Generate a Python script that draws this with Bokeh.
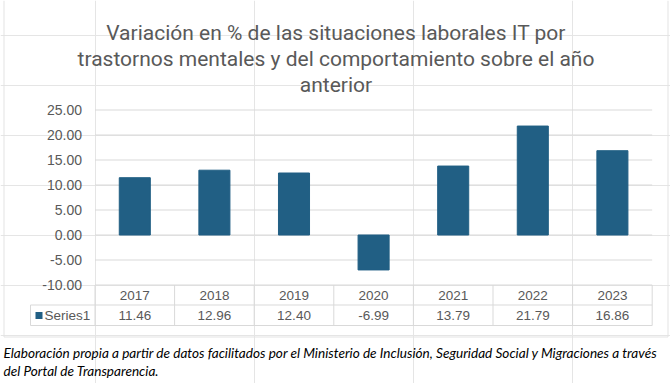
from bokeh.plotting import figure
from bokeh.models import Range1d, ColumnDataSource
from bokeh.embed import file_html
from bokeh.resources import INLINE
from bokeh.core.properties import value

# ---- data ----
years = ["2017", "2018", "2019", "2020", "2021", "2022", "2023"]
variation = [11.46, 12.96, 12.40, -6.99, 13.79, 21.79, 16.86]
y_ticks = [-10, -5, 0, 5, 10, 15, 20, 25]
series_name = "Series1"
title_lines = [
    "Variación en % de las situaciones laborales IT por",
    "trastornos mentales y del comportamiento sobre el año",
    "anterior",
]
caption_lines = [
    "Elaboración propia a partir de datos facilitados por el Ministerio de Inclusión, Seguridad Social y Migraciones a través",
    "del Portal de Transparencia.",
]

BAR = "#215F84"
GRID = "#D9D9D9"
BOX = "#E3E3E3"
TXT = "#595959"

W, H = 670, 383
# scale: one category = 79.6 px, one value unit = 5 px; category 0 starts at px 94.5, value 0 at px 234.5
X0, XS = 94.5, 79.6
Y0, YS = 234.5, 5.0


def dx(px):
    return (px - X0) / XS


def dy(py):
    return (Y0 - py) / YS


p = figure(width=W, height=H, output_backend="svg", toolbar_location=None,
           x_range=Range1d(dx(0), dx(W)), y_range=Range1d(dy(H), dy(0)),
           x_axis_location=None, y_axis_location=None, min_border=0)
p.outline_line_color = None
p.background_fill_color = "white"
p.border_fill_color = "white"

n = len(years)

# outer chart border
p.segment(x0=[dx(3.5), dx(667.5), dx(3.5)], x1=[dx(3.5), dx(667.5), dx(667.5)],
          y0=[dy(0), dy(0), dy(336.5)], y1=[dy(336.5), dy(336.5), dy(336.5)],
          line_color=BOX, line_width=1)

# horizontal gridlines at the tick values
p.segment(x0=[0] * len(y_ticks), x1=[n] * len(y_ticks), y0=y_ticks, y1=y_ticks,
          line_color=GRID, line_width=1)

# y tick labels
p.text(x=dx(81.5), y=y_ticks, text=[f"{t:.2f}" for t in y_ticks], text_align="right",
       text_baseline="middle", text_font=value("Liberation Sans"),
       text_font_size="14px", text_color=TXT)

xs = [i + 0.5 for i in range(n)]
src = ColumnDataSource(dict(x=xs, top=variation, year=years,
                            lab=[f"{v:.2f}" for v in variation]))
p.vbar(x="x", top="top", bottom=0, width=0.39, source=src, color=BAR)

# data table
tbl_top = y_ticks[0]
row_mid = dy(304.5)
tbl_bot = dy(325)
p.segment(x0=list(range(n + 1)), x1=list(range(n + 1)),
          y0=[tbl_top] * (n + 1), y1=[tbl_bot] * (n + 1), line_color=GRID, line_width=1)
cell_left = dx(30)
p.segment(x0=[cell_left, cell_left, cell_left], x1=[n, n, cell_left],
          y0=[row_mid, tbl_bot, row_mid], y1=[row_mid, tbl_bot, tbl_bot],
          line_color=GRID, line_width=1)
p.text(x="x", y=dy(294.5), text="year", source=src, text_align="center",
       text_baseline="middle", text_font=value("Liberation Sans"),
       text_font_size="13.5px", text_color=TXT)
p.text(x="x", y=dy(315), text="lab", source=src, text_align="center",
       text_baseline="middle", text_font=value("Liberation Sans"),
       text_font_size="13.5px", text_color=TXT)

# legend key in the table
p.quad(left=[dx(35)], right=[dx(42)], top=[dy(311.5)], bottom=[dy(318.5)],
       fill_color=BAR, line_color=None)
p.text(x=[dx(44)], y=[dy(315)], text=[series_name], text_align="left",
       text_baseline="middle", text_font=value("Liberation Sans"),
       text_font_size="13.5px", text_color=TXT)

# title
p.text(x=[dx(335.5)] * 3, y=[dy(32), dy(58), dy(84)], text=title_lines,
       text_align="center", text_baseline="alphabetic", text_font=value("Roboto"),
       text_font_size="21px", text_color=TXT)

# caption
p.text(x=[dx(3)] * 2, y=[dy(352), dy(370)], text=caption_lines,
       text_align="left", text_baseline="alphabetic", text_font=value("Lato"),
       text_font_style="italic", text_font_size="13.6px", text_color="black")

open("out.html", "w").write(file_html(p, INLINE))
